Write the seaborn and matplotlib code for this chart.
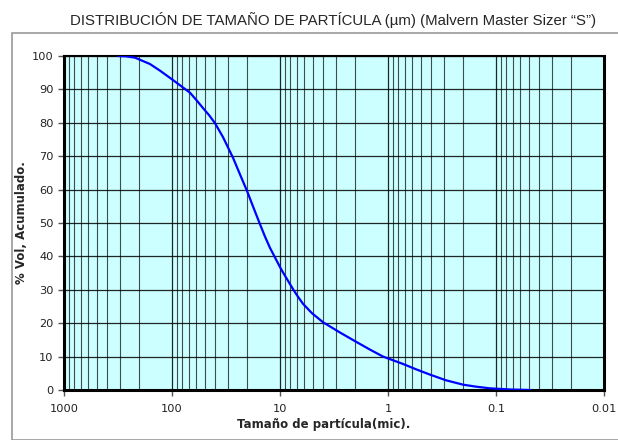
import matplotlib
matplotlib.use("Agg")
import matplotlib.pyplot as plt
import matplotlib.ticker as mticker
from matplotlib.patches import Rectangle
import seaborn as sns
import pandas as pd

# Data
size_um = [316, 266, 220, 160, 129, 97.9, 68.1, 58.7, 51.6, 45.4, 40.0, 33.7, 27.2,
           23.5, 20.2, 17.8, 15.3, 13.8, 12.4, 10.0, 9.38, 7.58, 6.81, 6.12, 5.06,
           4.0, 2.78, 1.94, 1.47, 1.11, 0.726, 0.55, 0.408, 0.29, 0.202, 0.153,
           0.114, 0.074, 0.048]
vol_acum = [100, 99.9, 99.5, 97.6, 95.6, 92.8, 89.0, 86.6, 84.4, 82.3, 79.9, 75.7, 69.5,
            64.6, 59.6, 55.0, 49.6, 46.0, 42.6, 36.8, 35.2, 30.2, 27.9, 25.8, 23.0,
            20.3, 17.2, 14.3, 12.1, 10.0, 7.8, 6.2, 4.6, 2.9, 1.6, 1.0,
            0.5, 0.15, 0.0]
x_ticks = [1000, 100, 10, 1, 0.1, 0.01]
x_tick_labels = ["1000", "100", "10", "1", "0.1", "0.01"]
y_ticks = [0, 10, 20, 30, 40, 50, 60, 70, 80, 90, 100]

title = "DISTRIBUCIÓN DE TAMAÑO DE PARTÍCULA (µm) (Malvern Master Sizer “S”)"
xlabel = "Tamaño de partícula(mic)."
ylabel = "% Vol, Acumulado."

sns.set_style("white")
plt.rcParams['font.family'] = ['DejaVu Sans']

df = pd.DataFrame({"size": size_um, "vol": vol_acum})

fig = plt.figure(figsize=(6.18, 4.40), dpi=100)
W, H = 618, 440
ax = fig.add_axes([64 / W, 1 - 390 / H, (604 - 64) / W, (390 - 56) / H])

# outer frame
fig.patches.append(Rectangle((12 / W, 0), 1.0, 1 - 33 / H, transform=fig.transFigure,
                             fill=False, edgecolor="#9a9a9a", linewidth=1.2, zorder=0))

ax.set_facecolor("#CCFFFF")
sns.lineplot(data=df, x="size", y="vol", ax=ax, color="#0000FF", linewidth=1.6,
             estimator=None, sort=False, zorder=5)

ax.set_xscale("log")
ax.set_xlim(1000, 0.01)
ax.set_ylim(0, 100)
ax.set_xticks(x_ticks)
ax.set_xticklabels(x_tick_labels)
ax.xaxis.set_minor_locator(mticker.LogLocator(base=10, subs=range(2, 10)))
ax.xaxis.set_minor_formatter(mticker.NullFormatter())
ax.set_yticks(y_ticks)

ax.grid(True, which="major", axis="both", color="black", linewidth=0.9, alpha=0.85)
ax.grid(True, which="minor", axis="x", color="black", linewidth=0.8, alpha=0.7)
ax.set_axisbelow(True)

ax.tick_params(axis="both", which="major", direction="out", length=4, width=1,
               color="#555555", labelsize=8.2, labelcolor="#222222", bottom=True, left=True)
ax.tick_params(axis="x", which="minor", length=0)
ax.tick_params(axis="x", pad=6)

for side in ["left", "bottom", "right"]:
    ax.spines[side].set_linewidth(2.2)
    ax.spines[side].set_color("black")
ax.spines["top"].set_linewidth(1.5)
ax.spines["top"].set_color("black")

ax.set_xlabel(xlabel, fontsize=8.5, fontweight="bold")
ax.xaxis.set_label_coords(0.48, -0.085)
ax.set_ylabel(ylabel, fontsize=8.5, fontweight="bold")
ax.yaxis.set_label_coords(-0.066, 0.5)

fig.text(333 / W, 1 - 20 / H, title, ha="center", va="center", fontsize=10.8,
         family=["Liberation Sans", "DejaVu Sans"])

fig.savefig("out.png", dpi=100)
